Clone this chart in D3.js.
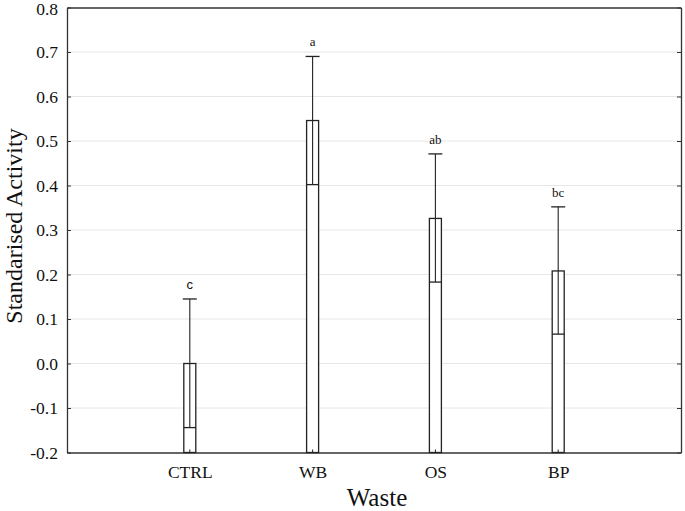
<!DOCTYPE html>
<html><head><meta charset="utf-8">
<script src="https://cdn.jsdelivr.net/npm/d3@7/dist/d3.min.js"></script>
<style>body{margin:0;background:#fff}svg{display:block}</style>
</head><body>
<script>
const categories = ["CTRL", "WB", "OS", "BP"];
const means = [0.0, 0.546, 0.326, 0.208];
const lowerErr = [-0.144, 0.402, 0.183, 0.066];
const upperErr = [0.145, 0.690, 0.471, 0.352];
const letters = ["c", "a", "ab", "bc"];
const yTicks = [-0.2, -0.1, 0.0, 0.1, 0.2, 0.3, 0.4, 0.5, 0.6, 0.7, 0.8];

const W = 685, H = 511;
const m = {left: 67, right: 4, top: 7.5, bottom: 58.5};
const svg = d3.select("body").append("svg").attr("width", W).attr("height", H);
const x = d3.scaleLinear().domain([0, 5]).range([m.left, W - m.right]);
const y = d3.scaleLinear().domain([-0.2, 0.8]).range([H - m.bottom, m.top]);
const serif = "'Liberation Serif', 'Times New Roman', serif";

// grid
svg.append("g").selectAll("line").data(yTicks.slice(1, -1)).join("line")
  .attr("x1", m.left).attr("x2", W - m.right)
  .attr("y1", d => y(d)).attr("y2", d => y(d))
  .attr("stroke", "#e6e6e6").attr("stroke-width", 1);

// axes
const fmt = d => d3.format(".1f")(d).replace("−", "-");
const yl = svg.append("g").attr("transform", `translate(${m.left},0)`)
  .call(d3.axisLeft(y).tickValues(yTicks).tickFormat(fmt).tickSizeInner(-4).tickSizeOuter(0).tickPadding(9));
const yr = svg.append("g").attr("transform", `translate(${W - m.right},0)`)
  .call(d3.axisRight(y).tickValues(yTicks).tickFormat("").tickSizeInner(-4).tickSizeOuter(0));
const xb = svg.append("g").attr("transform", `translate(0,${y(-0.2)})`)
  .call(d3.axisBottom(x).tickValues([1, 2, 3, 4]).tickFormat((d, i) => categories[i]).tickSizeInner(-3).tickSizeOuter(0).tickPadding(13));
const xt = svg.append("g").attr("transform", `translate(0,${m.top})`)
  .call(d3.axisTop(x).tickValues([]).tickSizeOuter(0));
[yl, yr, xb, xt].forEach(g => {
  g.selectAll("path").attr("stroke", "#333").attr("stroke-width", 1.3);
  g.selectAll("line").attr("stroke", "#333");
  g.selectAll("text").attr("font-family", serif).attr("font-size", 17.5).attr("fill", "#111");
});
// keep the top tick label inside the picture
yl.selectAll(".tick").filter(d => d === 0.8).select("text").attr("dy", "0.42em");

// bars
const bw = 12;
const bars = svg.append("g");
categories.forEach((c, i) => {
  const cx = x(i + 1);
  bars.append("rect").attr("x", cx - bw / 2).attr("y", y(means[i]))
    .attr("width", bw).attr("height", y(-0.2) - y(means[i]))
    .attr("fill", "#fff").attr("stroke", "#222").attr("stroke-width", 1.3);
  bars.append("line").attr("x1", cx).attr("x2", cx)
    .attr("y1", y(lowerErr[i])).attr("y2", y(upperErr[i]))
    .attr("stroke", "#222").attr("stroke-width", 1.1);
  bars.append("line").attr("x1", cx - bw / 2).attr("x2", cx + bw / 2)
    .attr("y1", y(lowerErr[i])).attr("y2", y(lowerErr[i]))
    .attr("stroke", "#222").attr("stroke-width", 1.3);
  bars.append("line").attr("x1", cx - bw / 2 - 1).attr("x2", cx + bw / 2 + 1)
    .attr("y1", y(upperErr[i])).attr("y2", y(upperErr[i]))
    .attr("stroke", "#222").attr("stroke-width", 1.3);
  bars.append("line").attr("x1", cx).attr("x2", cx)
    .attr("y1", y(-0.2)).attr("y2", y(-0.2) - 3)
    .attr("stroke", "#222").attr("stroke-width", 1);
  bars.append("text").attr("x", cx).attr("y", y(upperErr[i]) - 10)
    .attr("text-anchor", "middle")
    .attr("font-family", i === 0 ? "'Liberation Sans', Arial, sans-serif" : serif)
    .attr("font-size", 13).attr("fill", "#111").text(letters[i]);
});

// titles
svg.append("text").attr("x", 377).attr("y", 506)
  .attr("text-anchor", "middle").attr("font-family", serif).attr("font-size", 25)
  .attr("fill", "#111").text("Waste");
svg.append("text").attr("transform", `translate(22,226) rotate(-90)`)
  .attr("text-anchor", "middle").attr("font-family", serif).attr("font-size", 24)
  .attr("fill", "#111").text("Standarised Activity");
</script>
</body></html>
